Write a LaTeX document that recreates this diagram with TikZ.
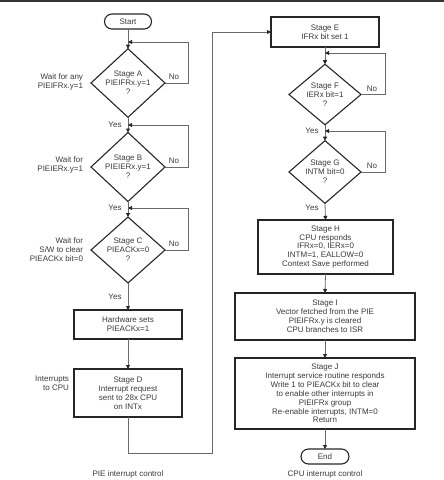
\documentclass[tikz,border=0pt]{standalone}
\usepackage{fontspec}
\setmainfont{Liberation Sans}
\usetikzlibrary{shapes.geometric,arrows.meta}
\definecolor{txt}{HTML}{3A3A3A}
\definecolor{bord}{HTML}{262626}
\definecolor{conn}{HTML}{6A6A6A}
\tikzset{
  every node/.style={font=\fontsize{8}{8.9}\selectfont, text=txt, inner sep=0pt, outer sep=0pt},
  procbox/.style={draw=bord, line width=1.1pt, rectangle, align=center},
  termbox/.style={draw=bord, line width=1.1pt, rectangle, rounded corners=7.5pt, minimum width=47pt, minimum height=15pt, align=center},
  decbox/.style={draw=bord, line width=1.1pt, diamond, minimum width=74pt, minimum height=60pt, align=center},
  connline/.style={draw=conn, line width=0.8pt},
  arr/.style={connline, -{Triangle[length=4pt,width=4pt,fill=bord,color=bord]}},
  lbl/.style={align=right, anchor=east},
}
\begin{document}
\begin{tikzpicture}[x=1pt,y=-1pt]
\useasboundingbox (0,0) rectangle (444,480);
\fill[black!80] (0,0) rectangle (444,2);
% left column
\node[termbox] (start) at (128,21.5) {Start};
\node[decbox] (A) at (128,83) {Stage A\\PIEIFRx.y=1\\?};
\node[decbox] (B) at (128,167) {Stage B\\PIEIERx.y=1\\?};
\node[decbox] (C) at (128,250) {Stage C\\PIEACKx=0\\?};
\node[procbox, minimum width=108pt, minimum height=29pt] (HW) at (128,324.5) {Hardware sets\\PIEACKx=1};
\node[procbox, minimum width=108pt, minimum height=48pt] (D) at (128,393) {Stage D\\Interrupt request\\sent to 28x CPU\\on INTx};
\coordinate (jA) at (128,42);
\coordinate (jB) at (128,125);
\coordinate (jC) at (128,208);
\coordinate (cD) at (212,453);
% labels left
\node[lbl] (wA) at (83,82) {Wait for any\\PIEIFRx.y=1};
\node[lbl] (wB) at (83,165) {Wait for\\PIEIERx.y=1};
\node[lbl] (wC) at (83,250) {Wait for\\S/W to clear\\PIEACKx bit=0};
\node[lbl] (wD) at (69,383.5) {Interrupts\\to CPU};
\node (nA) at (174,77) {No};
\node (nB) at (174,161) {No};
\node (nC) at (174,244) {No};
\node (yA) at (115,125) {Yes};
\node (yB) at (115,208) {Yes};
\node (yC) at (115,297) {Yes};
\node (capL) at (128,474) {PIE interrupt control};
% right column
\node[procbox, minimum width=108pt, minimum height=30pt] (E) at (325,32) {Stage E\\IFRx bit set 1};
\node[decbox, minimum width=72pt, minimum height=59pt] (F) at (325,94.5) {Stage F\\IERx bit=1\\?};
\node[decbox, minimum width=72pt, minimum height=59pt] (G) at (325,172) {Stage G\\INTM bit=0\\?};
\node[procbox, minimum width=135pt, minimum height=54pt] (H) at (325.5,247) {Stage H\\CPU responds\\IFRx=0, IERx=0\\INTM=1, EALLOW=0\\Context Save performed};
\node[procbox, minimum width=180pt, minimum height=47pt] (I) at (325,316.5) {Stage I\\Vector fetched from the PIE\\PIEIFRx.y is cleared\\CPU branches to ISR};
\node[procbox, minimum width=180pt, minimum height=71pt] (J) at (325,393.5) {Stage J\\Interrupt service routine responds\\Write 1 to PIEACKx bit to clear\\to enable other interrupts in\\PIEIFRx group\\Re-enable interrupts, INTM=0\\Return};
\node[termbox, minimum width=48pt] (endn) at (325,456.5) {End};
\coordinate (jF) at (325,53);
\coordinate (jG) at (325,131);
\node (nF) at (372,89) {No};
\node (nG) at (372,166) {No};
\node (yF) at (312,131) {Yes};
\node (yG) at (312,208) {Yes};
\node (capR) at (325,474) {CPU interrupt control};
% connectors left
\draw[arr] (start.south) -- (A.north);
\draw[arr] (A.east) -- (188,83) |- (jA);
\draw[arr] (A.south) -- (B.north);
\draw[arr] (B.east) -- (188,167) |- (jB);
\draw[arr] (B.south) -- (C.north);
\draw[arr] (C.east) -- (188,250) |- (jC);
\draw[arr] (C.south) -- (HW.north);
\draw[arr] (HW.south) -- (D.north);
\draw[arr] (D.south) |- (cD) |- (E.west);
% connectors right
\draw[arr] (E.south) -- (F.north);
\draw[arr] (F.east) -- (385,94.5) |- (jF);
\draw[arr] (F.south) -- (G.north);
\draw[arr] (G.east) -- (385,172) |- (jG);
\draw[arr] (G.south) -- (H.north);
\draw[arr] (H.south) -- (I.north);
\draw[arr] (I.south) -- (J.north);
\draw[arr] (J.south) -- (endn.north);
\end{tikzpicture}
\end{document}
